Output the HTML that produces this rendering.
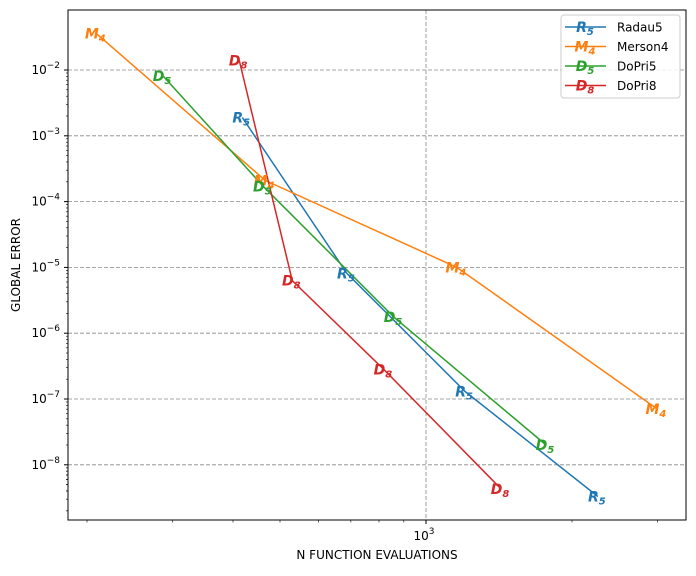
<!DOCTYPE html>
<html><head><meta charset="utf-8"><style>
body{margin:0;background:#fff;}
svg{font-family:"DejaVu Sans","Liberation Sans",sans-serif;}
.mk{font-weight:bold;font-style:italic;font-size:14px;}
</style></head><body>
<svg id="chart" width="696" height="571" xmlns="http://www.w3.org/2000/svg">
<rect x="68" y="10" width="618" height="510" fill="#fff"/>
<g id="grid"></g><g id="ticks"></g><g id="series"></g>
<rect x="68" y="10" width="618" height="510" fill="none" stroke="#000" stroke-width="1"/>
<text x="377" y="559" text-anchor="middle" font-size="12">N FUNCTION EVALUATIONS</text>
<text transform="translate(20,265) rotate(-90)" text-anchor="middle" font-size="12">GLOBAL ERROR</text>
<g id="legend"></g>
</svg>
<script>
const seriesNames=["Radau5","Merson4","DoPri5","DoPri8"];
const seriesColors=["#1f77b4","#ff7f0e","#2ca02c","#d62728"];
const markerLetters=["R","M","D","D"];
const markerSubs=["5","4","5","8"];
const radauN=[418,687,1204,2261];
const radauErr=[1.9e-3,8.1e-6,1.3e-7,3.3e-9];
const mersonN=[209,466,1158,2993];
const mersonErr=[3.6e-2,2.1e-4,1.0e-5,7.1e-8];
const dopri5N=[287,462,859,1768];
const dopri5Err=[8.1e-3,1.7e-4,1.75e-6,2.0e-8];
const dopri8N=[412,530,819,1428];
const dopri8Err=[1.4e-2,6.3e-6,2.8e-7,4.3e-9];
const yTickExps=[-8,-7,-6,-5,-4,-3,-2];
const xMajor=[1000];
const xMinor=[200,300,400,500,600,700,800,900,2000,3000];

const NS="http://www.w3.org/2000/svg";
const X=n=>426+485*Math.log10(n/1000);
const Y=e=>70-65.8*(Math.log10(e)+2);
function mk(tag,attrs,parent){const el=document.createElementNS(NS,tag);for(const k in attrs)el.setAttribute(k,attrs[k]);parent.appendChild(el);return el;}
const grid=document.getElementById('grid'),ticks=document.getElementById('ticks'),ser=document.getElementById('series'),leg=document.getElementById('legend');

yTickExps.forEach(p=>{
  const y=Y(Math.pow(10,p));
  const g=mk('line',{x1:68,x2:686,y1:y,y2:y,stroke:'#888','stroke-dasharray':'4,2','stroke-width':0.8},grid);
  
  
  const t=mk('line',{x1:64,x2:68,y1:y,y2:y,stroke:'#000'},ticks);
  
  
  const lb=mk('text',{x:60,y:y+4,'text-anchor':'end','font-size':12},ticks);
  
  
  lb.innerHTML='10<tspan dy="-6" font-size="9">\u2212'+(-p)+'</tspan>';
  for(let k=2;k<10;k++){const ym=Y(k*Math.pow(10,p-1));if(ym<10||ym>520)continue;
    const m=mk('line',{x1:66,x2:68,y1:ym,y2:ym,stroke:'#000','stroke-width':0.6},ticks);
    
    }
});
{const k=Y(1e-9);}
[2,3,4,5,6,7,8,9].forEach(k=>{const ym=Y(k*1e-9);if(ym>=10&&ym<=520){const m=mk('line',{x1:66,x2:68,y1:ym,y2:ym,stroke:'#000','stroke-width':0.6},ticks);
  
  }});
xMajor.forEach(n=>{
  const x=X(n);
  const g=mk('line',{x1:x,x2:x,y1:10,y2:520,stroke:'#888','stroke-dasharray':'4,2','stroke-width':0.8},grid);
  
  
  const t=mk('line',{x1:x,x2:x,y1:520,y2:524,stroke:'#000'},ticks);
  
  
  const lb=mk('text',{x:x-2,y:540,'text-anchor':'middle','font-size':12},ticks);
  
  
  lb.innerHTML='10<tspan dy="-6" font-size="9">3</tspan>';
});
xMinor.forEach(n=>{const x=X(n);
  const t=mk('line',{x1:x,x2:x,y1:520,y2:522.5,stroke:'#000','stroke-width':0.6},ticks);
  
  });

const allN=[radauN,mersonN,dopri5N,dopri8N],allE=[radauErr,mersonErr,dopri5Err,dopri8Err];
function marker(parent,x,y,i){
  const t=mk('text',{x:x-1,y:y+5,'text-anchor':'middle',fill:seriesColors[i],class:'mk'},parent);
  t.innerHTML=markerLetters[i]+'<tspan dy="3" font-size="10">'+markerSubs[i]+'</tspan>';
  return t;
}
allN.forEach((ns,i)=>{
  const pts=ns.map((n,j)=>X(n)+','+Y(allE[i][j])).join(' ');
  const l=mk('polyline',{points:pts,fill:'none',stroke:seriesColors[i],'stroke-width':1.5},ser);
  
  
});
allN.forEach((ns,i)=>{ns.forEach((n,j)=>{
  const t=marker(ser,X(n),Y(allE[i][j]),i);
  
  
});});

const box=mk('rect',{x:561,y:15,width:119,height:83,rx:3,fill:'#fff','fill-opacity':0.85,stroke:'#ccc'},leg);


seriesNames.forEach((nm,i)=>{
  const y=27+19.5*i;
  const g=mk('g',{},leg);
  
  
  mk('line',{x1:565,x2:606,y1:y,y2:y,stroke:seriesColors[i],'stroke-width':1.5},g);
  marker(g,586,y,i);
  const t=mk('text',{x:617,y:y+4.5,'font-size':12},g);
  t.textContent=nm;
});
</script>
</body></html>
